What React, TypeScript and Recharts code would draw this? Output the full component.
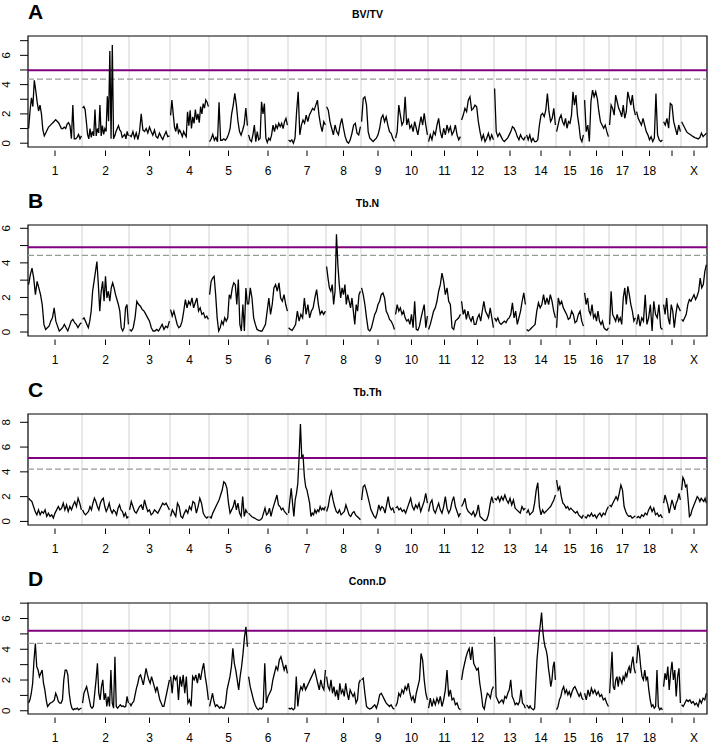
import { LineChart, Line, XAxis, YAxis, ReferenceLine, ReferenceArea, CartesianGrid } from "recharts";

// chromosome map (lengths, same for all four scans)
const chromNames = ["1", "2", "3", "4", "5", "6", "7", "8", "9", "10", "11", "12", "13", "14", "15", "16", "17", "18", "19", "X"];
const chromLengths = [54, 47, 41, 39, 39, 40, 38, 35, 34, 33, 33, 33, 32, 30, 28, 25, 27, 27, 18, 26];
const hiddenLabels = ["19"]; // R drops this label (no room)

// LOD profiles, one list per chromosome
const bvtvLod: number[][] = [
  [1.0, 2.2, 3.1, 2.5, 4.3, 3.6, 2.8, 2.2, 2.6, 2.0, 0.9, 0.5, 0.7, 0.9, 1.1, 1.2, 1.3, 1.4, 1.5, 1.6, 1.5, 1.4, 1.2, 1.0, 1.0, 1.1, 1.0, 1.3, 1.4, 1.2, 0.3, 2.6, 0.3, 0.3, 0.4, 0.6, 0.3, 0.5],
  [2.4, 2.5, 2.3, 1.5, 0.6, 0.3, 1.0, 0.4, 0.8, 0.5, 2.3, 0.5, 1.0, 0.7, 2.6, 0.5, 1.2, 0.6, 1.0, 0.8, 3.2, 1.5, 6.3, 0.3, 6.7, 0.3, 0.5, 0.8, 1.0, 1.2, 0.9, 0.8, 0.4, 0.5, 0.6, 0.3, 0.8, 0.5],
  [0.55, 0.45, 0.8, 0.35, 0.7, 0.25, 0.8, 2.0, 0.9, 0.8, 1.0, 0.7, 1.1, 0.8, 0.55, 0.9, 0.45, 0.35, 0.7, 0.45, 0.25, 0.55, 0.8, 0.45, 0.5],
  [1.9, 2.95, 2.0, 1.1, 0.8, 1.35, 0.7, 0.9, 0.7, 0.45, 0.8, 0.6, 0.45, 2.15, 1.2, 2.25, 1.0, 1.8, 1.35, 2.3, 1.6, 2.0, 1.4, 2.5, 2.0, 2.7, 2.4, 2.95, 2.8, 2.5],
  [0.1, 0.3, 0.6, 0.2, 0.4, 0.1, 2.8, 0.2, 0.2, 0.3, 0.2, 0.35, 0.6, 1.0, 2.0, 2.6, 3.4, 2.6, 1.5, 0.8, 0.55, 0.9, 1.3, 2.4, 1.2],
  [0.57, 0.23, 0.11, 0.57, 1.24, 0.11, 0.79, 0.23, 0.34, 2.83, 2.0, 2.71, 0.34, 0.05, 0.34, 0.2, 0.57, 1.24, 0.79, 1.24, 1.02, 1.36, 1.13, 1.36, 1.0, 1.47, 1.7, 1.24],
  [0.23, 0.11, 0.23, 0.0, 0.34, 2.15, 3.51, 0.57, 1.24, 1.58, 1.36, 1.92, 1.47, 1.92, 2.15, 2.38, 2.26, 2.6, 2.94, 1.92, 1.24, 0.79, 1.47, 1.24],
  [2.49, 2.26, 1.47, 1.02, 0.57, 1.24, 0.79, 0.57, 1.24, 1.7, 1.02, 0.45, 0.11, 0.0, 0.23, 0.68, 1.24, 1.36, 0.68, 0.57, 1.13],
  [1.47, 3.05, 3.17, 2.6, 0.79, 0.34, 0.23, 0.11, 0.23, 0.34, 0.57, 1.02, 1.7, 1.92, 1.47, 1.81, 1.24, 0.79, 0.68, 0.34, 0.11],
  [0.34, 0.79, 2.6, 1.92, 1.24, 1.47, 3.17, 1.24, 1.7, 1.02, 1.24, 0.79, 1.47, 1.02, 0.57, 1.24, 1.81, 1.24, 2.04, 1.24, 0.57],
  [0.11, 0.57, 0.23, 0.79, 0.57, 1.24, 1.7, 0.79, 0.34, 1.02, 0.57, 1.24, 0.79, 1.13, 0.57, 0.79, 1.24, 0.57, 0.23, 0.45],
  [1.58, 1.92, 2.38, 2.15, 2.94, 3.17, 2.26, 2.38, 2.6, 2.49, 1.47, 0.79, 0.23, 0.57, 0.11, 0.34, 0.68, 0.23, 0.57, 0.23],
  [3.73, 0.79, 0.45, 0.68, 0.45, 0.23, 0.11, 0.23, 0.34, 0.57, 0.79, 1.13, 1.02, 0.79, 0.45, 0.23, 0.57, 0.34, 0.23, 0.45],
  [0.57, 0.23, 0.57, 0.11, 0.34, 0.11, 0.11, 0.23, 1.24, 1.92, 2.04, 1.81, 2.26, 3.39, 2.15, 1.47, 1.7, 2.38, 1.24],
  [0.79, 1.24, 1.7, 1.92, 1.47, 1.24, 1.7, 1.02, 1.47, 1.36, 1.92, 3.51, 2.6, 3.28, 1.92, 1.24, 0.34, 0.11, 0.57],
  [2.94, 0.79, 1.24, 0.11, 2.83, 3.62, 3.17, 3.51, 3.05, 2.15, 1.47, 1.24, 1.02, 1.24, 0.79, 0.45],
  [1.24, 2.6, 2.38, 1.92, 3.28, 2.83, 2.38, 2.15, 1.81, 2.6, 1.7, 2.15, 3.51, 3.05, 2.6, 3.28, 2.38, 1.92],
  [2.15, 1.7, 1.47, 1.24, 1.7, 1.24, 0.79, 0.57, 0.23, 0.45, 0.11, 0.34, 3.39, 0.57, 0.23, 0.11, 0.23],
  [1.47, 1.24, 1.7, 1.02, 2.71, 2.6, 1.47, 1.02, 0.57, 1.24, 0.79],
  [1.47, 1.24, 1.02, 0.79, 0.68, 0.61, 0.52, 0.45, 0.38, 0.34, 0.29, 0.38, 0.68, 0.45, 0.57, 0.68],
];

const tbnLod: number[][] = [
  [2.74, 3.31, 3.7, 3.12, 2.16, 2.93, 2.55, 2.16, 1.59, 0.44, 0.15, 0.25, 0.34, 0.63, 0.82, 1.4, 0.63, 0.34, 0.06, 0.15, 0.25, 0.44, 0.25, 0.06, 0.34, 0.63, 0.73, 0.54, 0.44, 0.25, 0.44, 0.54],
  [0.73, 0.82, 0.63, 0.44, 0.25, 0.63, 1.21, 2.36, 2.93, 3.51, 4.08, 2.74, 1.21, 2.36, 2.93, 1.78, 3.22, 1.97, 2.36, 1.78, 2.55, 2.84, 2.55, 2.16, 1.88, 1.59, 1.21, 0.25, 0.06, 0.25, 1.4, 1.59, 0.44],
  [0.15, 0.06, 0.25, 0.82, 1.78, 1.59, 1.49, 1.3, 1.21, 1.02, 0.82, 0.63, 0.25, 0.06, 0.06, 0.15, 0.06, 0.25, 0.44, 0.15, 0.34, 0.25, 0.63],
  [1.3, 0.92, 1.21, 0.82, 0.44, 0.25, 0.34, 0.63, 1.21, 1.88, 1.4, 1.78, 1.59, 1.97, 1.4, 1.69, 1.97, 1.21, 1.4, 1.02, 1.11, 0.82, 0.92, 0.73],
  [2.16, 2.93, 3.12, 3.22, 2.16, 0.82, 0.06, 0.25, 0.63, 0.44, 0.82, 0.63, 0.82, 2.16, 1.97, 2.55, 2.84, 2.74, 1.59, 3.03, 0.44, 0.06, 1.59, 0.06, 2.55, 1.59],
  [1.59, 2.55, 1.97, 0.82, 0.44, 0.15, 0.1, 0.06, 0.06, 0.25, 0.44, 1.21, 1.97, 1.02, 1.59, 2.55, 2.74, 2.36, 2.84, 1.97, 1.78, 2.16, 1.59, 1.21],
  [0.25, 0.15, 0.1, 0.25, 0.44, 1.21, 0.63, 1.02, 0.82, 1.97, 1.02, 1.59, 0.82, 1.21, 1.4, 1.97, 2.45, 1.59, 1.02, 1.21, 1.02, 1.21],
  [3.79, 3.12, 2.55, 2.36, 2.74, 1.59, 2.36, 5.65, 3.89, 2.74, 1.97, 2.55, 2.16, 2.74, 1.59, 2.16, 1.78, 1.4, 1.97, 1.21, 0.44, 1.59, 1.21, 2.16, 2.36],
  [2.55, 2.16, 1.59, 0.82, 0.15, 0.06, 0.25, 0.63, 1.02, 1.21, 1.59, 1.78, 2.16, 2.26, 1.97, 1.21, 1.02, 0.73, 0.63, 0.44, 0.15],
  [1.02, 1.59, 1.21, 1.4, 1.02, 1.21, 0.82, 0.63, 0.73, 0.44, 1.02, 0.25, 1.78, 0.15, 0.1, 0.34, 0.82, 1.21, 1.59, 0.25, 0.92],
  [0.15, 0.44, 0.82, 1.21, 1.4, 1.78, 2.36, 2.74, 3.41, 2.93, 2.16, 2.55, 1.78, 1.59, 0.25, 0.15, 0.63, 0.73, 0.82, 1.02],
  [1.78, 1.02, 1.3, 0.73, 1.21, 0.82, 0.63, 0.92, 0.44, 0.44, 0.82, 1.02, 0.63, 1.21, 1.78, 1.21, 1.02, 0.82, 1.4, 0.82, 0.25],
  [0.82, 0.63, 0.82, 0.54, 0.44, 0.54, 0.63, 0.54, 0.73, 0.82, 1.02, 1.69, 0.82, 1.21, 0.44, 0.82, 1.21, 1.78, 2.26, 1.59],
  [0.15, 0.06, 0.15, 0.25, 0.34, 0.44, 1.21, 1.69, 1.4, 1.59, 2.16, 1.59, 1.97, 1.59, 2.16, 1.78, 1.21, 0.82],
  [0.25, 1.97, 1.59, 1.78, 1.4, 1.21, 1.02, 0.73, 0.82, 1.21, 1.02, 0.54, 0.63, 1.02, 1.21, 0.63, 0.34],
  [2.26, 1.59, 1.97, 1.21, 1.02, 1.59, 0.82, 1.02, 0.63, 1.21, 0.63, 0.44, 0.63, 0.25, 0.15, 0.1, 0.25],
  [0.44, 2.36, 1.02, 0.82, 0.63, 1.02, 0.63, 0.82, 0.44, 1.97, 2.55, 1.59, 2.64, 2.16, 1.59, 1.21, 0.63, 0.82],
  [0.44, 1.02, 0.34, 0.82, 0.63, 2.16, 0.44, 0.82, 1.59, 0.06, 1.78, 1.02, 0.82, 1.59, 0.25, 0.15],
  [1.59, 1.02, 1.97, 0.82, 0.44, 1.59, 1.21, 0.25, 1.02, 1.59, 1.4, 1.21],
  [0.73, 0.63, 0.82, 1.02, 1.59, 1.88, 1.78, 1.97, 2.16, 1.88, 2.07, 2.36, 3.12, 2.55, 2.74, 3.51, 3.89],
];

const tbthLod: number[][] = [
  [1.87, 1.73, 1.6, 1.2, 0.8, 0.53, 0.93, 0.53, 0.8, 0.67, 0.93, 0.4, 0.67, 0.4, 0.53, 0.27, 0.67, 0.93, 1.2, 0.93, 1.07, 1.47, 0.93, 1.33, 0.8, 1.2, 0.93, 1.33, 1.6, 1.2, 1.87, 1.47, 0.93],
  [0.93, 0.67, 0.53, 0.67, 0.8, 1.2, 0.93, 1.47, 1.87, 1.6, 1.2, 0.93, 1.47, 1.73, 1.87, 1.2, 0.8, 1.07, 1.47, 0.93, 0.67, 0.93, 0.8, 0.53, 1.07, 1.33, 0.93, 0.8, 0.4, 0.67, 0.27, 0.4],
  [0.93, 1.6, 1.2, 0.8, 0.67, 0.93, 1.2, 1.33, 0.93, 1.73, 1.2, 0.8, 0.93, 0.53, 0.67, 0.93, 0.8, 0.67, 0.93, 1.2, 1.47, 1.33, 1.47, 1.2, 0.93],
  [0.4, 0.93, 0.67, 0.4, 1.47, 1.2, 0.4, 0.27, 0.67, 0.93, 0.67, 1.2, 0.93, 1.6, 1.47, 0.67, 1.2, 1.87, 1.47, 0.67, 0.4, 0.27, 0.4],
  [0.4, 0.27, 0.67, 0.93, 1.2, 1.47, 1.73, 2.13, 2.53, 3.2, 3.07, 2.67, 1.47, 0.67, 0.93, 1.2, 1.73, 0.93, 1.47, 0.67, 0.4, 2.0, 0.4, 0.93, 0.67],
  [0.67, 0.53, 0.4, 0.32, 0.27, 0.19, 0.13, 0.08, 0.13, 0.27, 0.67, 1.07, 0.53, 0.67, 1.07, 0.4, 0.93, 1.33, 1.73, 2.13, 1.33, 1.2, 0.93, 1.07, 0.8, 0.67, 0.53],
  [0.67, 1.73, 2.67, 1.47, 0.4, 1.73, 2.27, 3.07, 5.2, 7.87, 5.2, 5.33, 3.6, 2.8, 2.53, 2.0, 1.47, 0.4, 0.67, 0.53, 0.93, 0.67, 0.93, 0.8, 1.2, 0.93, 1.07, 0.93, 1.2],
  [0.8, 1.2, 2.0, 2.4, 1.73, 1.2, 0.8, 0.67, 0.93, 0.53, 0.67, 0.8, 1.33, 0.93, 0.53, 0.4, 0.67, 0.8, 0.53, 0.4, 0.27, 0.13],
  [1.73, 2.8, 2.93, 2.53, 2.0, 1.47, 0.93, 0.67, 0.4, 0.27, 0.67, 1.33, 0.93, 1.2, 1.07, 0.67, 1.33, 2.0, 1.2, 0.93, 1.07, 0.67],
  [1.07, 1.2, 0.93, 1.07, 0.8, 0.93, 0.67, 1.07, 1.47, 1.87, 1.2, 0.93, 1.33, 1.07, 1.47, 0.8, 1.2, 1.6, 2.27, 1.47],
  [0.8, 1.47, 1.73, 0.93, 0.67, 1.07, 1.47, 0.93, 0.67, 1.2, 2.0, 1.07, 0.67, 0.93, 1.6, 2.0, 1.2, 0.8, 0.4, 0.67],
  [1.2, 1.47, 1.87, 1.07, 0.8, 0.67, 0.53, 0.8, 0.4, 0.67, 1.33, 0.4, 0.27, 0.13, 0.05, 0.13, 0.53, 1.33, 2.0, 1.47],
  [1.87, 1.73, 2.0, 1.6, 2.0, 1.73, 2.13, 1.73, 1.47, 1.87, 1.33, 1.73, 1.07, 0.93, 0.8, 0.67, 1.2, 0.93, 1.07],
  [0.67, 0.93, 0.53, 0.67, 0.8, 1.47, 2.53, 3.12, 1.2, 0.53, 0.93, 0.67, 0.8, 0.93, 1.07, 1.2, 1.47, 1.73, 2.13],
  [3.33, 2.53, 2.8, 2.0, 1.47, 1.33, 1.07, 1.2, 0.93, 1.07, 0.93, 0.8, 0.67, 0.8, 0.53, 0.4, 0.27, 0.53],
  [0.4, 0.27, 0.53, 0.4, 0.67, 0.4, 0.53, 0.27, 0.53, 0.67, 0.4, 0.67, 0.53, 0.93, 1.2],
  [1.33, 1.2, 1.47, 1.73, 2.0, 1.73, 2.27, 2.93, 2.53, 1.2, 0.8, 0.53, 0.4, 0.45, 0.27, 0.35, 0.45],
  [0.27, 0.4, 0.27, 0.53, 0.4, 0.67, 0.53, 0.93, 1.2, 0.8, 1.07, 0.53, 0.67, 0.4, 0.53, 0.27],
  [1.47, 2.13, 1.73, 1.33, 0.67, 1.2, 1.73, 1.33, 0.93, 1.47, 1.73, 2.27, 1.73],
  [2.53, 3.55, 3.33, 2.8, 2.93, 1.73, 0.4, 0.53, 0.93, 1.2, 1.47, 1.73, 2.0, 1.87, 1.6, 1.87, 1.73, 1.6, 1.87, 1.47],
];

const conndLod: number[][] = [
  [0.5, 0.71, 1.14, 1.79, 3.3, 4.38, 2.87, 2.65, 2.22, 2.44, 2.65, 1.79, 1.36, 0.71, 0.28, 0.39, 0.5, 0.54, 0.6, 0.71, 1.14, 0.93, 0.6, 0.5, 0.5, 0.71, 2.01, 2.65, 2.65, 2.33, 1.14, 0.5, 0.17, 0.06, 0.13, 0.11, 0.17, 0.06, 0.13, 0.17],
  [0.5, 1.14, 1.36, 1.57, 1.14, 0.71, 0.28, 0.17, 0.28, 1.14, 2.01, 3.09, 1.14, 0.71, 1.57, 2.01, 0.71, 1.14, 0.28, 0.93, 0.28, 2.65, 0.5, 0.17, 3.52, 0.28, 0.17, 0.28, 0.39, 0.28, 0.32, 0.24, 0.28, 0.93, 0.5],
  [0.5, 0.32, 0.5, 0.6, 1.04, 1.47, 1.79, 2.22, 2.33, 2.01, 1.68, 2.22, 2.76, 2.33, 2.01, 1.79, 2.22, 1.9, 1.57, 1.25, 1.57, 1.14, 0.71, 0.5, 0.28, 0.28, 0.71, 1.14, 1.57, 2.01],
  [2.22, 1.14, 2.33, 2.01, 2.22, 0.71, 2.22, 1.57, 2.33, 1.14, 2.22, 0.5, 0.71, 0.28, 2.22, 2.01, 2.33, 1.79, 2.44, 2.01, 2.65, 3.09, 2.22, 1.57, 0.71],
  [0.28, 0.71, 1.14, 0.6, 0.28, 0.39, 0.28, 0.17, 0.28, 0.17, 0.17, 0.5, 1.36, 1.79, 2.22, 2.87, 4.06, 3.09, 2.65, 2.01, 1.36, 2.22, 2.87, 3.73, 4.81, 5.46, 4.16],
  [2.22, 1.57, 1.14, 0.71, 0.39, 0.17, 0.06, 0.17, 0.11, 0.28, 3.09, 0.5, 0.93, 1.14, 1.36, 2.01, 2.44, 2.87, 2.65, 3.3, 3.52, 3.09, 2.65, 2.98, 2.44],
  [0.17, 0.11, 0.17, 0.06, 0.17, 2.22, 0.28, 1.14, 1.57, 1.36, 1.79, 1.36, 1.57, 1.79, 2.01, 2.22, 2.44, 2.65, 2.22, 1.79, 1.36, 2.01, 1.57, 1.36, 2.65],
  [2.22, 1.57, 1.36, 2.01, 1.14, 1.57, 0.93, 1.36, 0.71, 1.79, 1.14, 1.36, 0.93, 1.79, 1.14, 0.71, 1.36, 1.14, 0.93, 1.14, 0.5, 0.71, 1.79, 2.01],
  [2.01, 2.12, 1.14, 0.28, 0.17, 0.11, 0.17, 0.28, 0.39, 0.17, 0.5, 1.04, 1.14, 0.93, 0.71, 0.5, 0.39, 0.28, 0.39, 0.17, 0.11],
  [0.28, 0.5, 1.14, 0.93, 1.36, 1.14, 1.57, 1.36, 1.79, 1.14, 0.71, 0.93, 0.5, 1.14, 1.57, 2.01, 3.73, 3.3, 2.01, 1.14, 0.71],
  [0.17, 0.82, 0.28, 0.71, 0.39, 0.82, 0.5, 0.93, 0.28, 0.71, 1.36, 2.65, 0.93, 1.36, 0.71, 0.82, 0.39, 0.5, 0.17, 0.06],
  [2.01, 2.65, 3.09, 3.52, 3.84, 4.06, 3.3, 4.16, 3.09, 2.87, 2.65, 2.76, 1.79, 1.14, 0.28, 0.11, 0.71, 1.14, 1.04, 0.82, 1.36, 1.57],
  [4.81, 0.93, 0.71, 0.5, 0.6, 0.71, 0.5, 0.93, 0.82, 1.14, 1.36, 2.01, 0.93, 0.71, 0.39, 0.5, 0.39, 0.6, 1.36, 0.5, 0.39, 0.17],
  [0.39, 0.28, 0.17, 0.32, 0.17, 0.11, 0.06, 0.17, 1.79, 3.3, 4.16, 5.03, 5.67, 6.39, 5.24, 4.6, 4.16, 3.95, 3.52, 2.76, 2.22, 1.57, 2.01, 2.87, 3.19, 2.01],
  [0.06, 0.28, 0.71, 0.93, 1.36, 1.57, 1.14, 1.36, 1.04, 1.25, 0.93, 1.25, 1.47, 1.57, 1.36, 1.14, 0.93, 1.14, 0.82, 0.71],
  [1.14, 0.71, 1.36, 0.93, 1.47, 1.14, 1.36, 1.04, 1.25, 0.93, 1.04, 0.71, 0.82, 0.5, 0.28],
  [1.14, 2.44, 3.84, 1.57, 1.36, 2.01, 2.22, 1.57, 2.22, 2.01, 1.79, 2.22, 2.01, 2.44, 2.22, 2.65, 2.87, 2.44, 3.09, 3.52, 2.76, 2.44],
  [3.09, 4.27, 3.84, 2.87, 2.22, 2.01, 2.65, 2.01, 2.22, 1.36, 0.71, 0.28, 0.39, 0.17, 0.28, 2.65, 0.28, 0.06, 0.17, 0.06],
  [1.57, 2.44, 2.01, 2.87, 1.36, 2.44, 3.19, 2.01, 2.65, 0.93, 2.22, 2.76, 0.5],
  [0.39, 0.28, 0.5, 0.71, 0.6, 0.71, 0.5, 0.6, 0.39, 0.5, 0.28, 0.71, 0.5, 0.82, 0.71, 1.14],
];

const panelLetters = ["A", "B", "C", "D"];
const panelTitles = ["BV/TV", "Tb.N", "Tb.Th", "Conn.D"];
const thresholds = [4.98, 4.91, 5.12, 5.2]; // purple, significant
const suggestive = [4.37, 4.43, 4.22, 4.38]; // grey dashed
const yRanges = [
  [-0.26, 7.32],
  [-0.23, 6.19],
  [-0.29, 8.67],
  [-0.21, 7.01],
];
const yTicks = [
  [0, 1, 2, 3, 4, 5, 6, 7],
  [0, 1, 2, 3, 4, 5, 6],
  [0, 2, 4, 6, 8],
  [0, 1, 2, 3, 4, 5, 6, 7],
];

const FONT = "'Liberation Sans', Arial, Helvetica, sans-serif";
const W = 708;
const H = 189;

const chromStarts = chromLengths.map((_, i) => chromLengths.slice(0, i).reduce((a, b) => a + b, 0));
const totalLen = chromLengths.reduce((a, b) => a + b, 0);
const chromCenters = chromStarts.map((s, i) => s + chromLengths[i] / 2);
const boundaries = chromStarts.slice(1);

// one row per marker, with a null row between chromosomes to break the line
function buildRows(lod: number[][]) {
  const rows: { pos: number; lod: number | null }[] = [];
  lod.forEach((vals, c) => {
    const start = chromStarts[c];
    const len = chromLengths[c];
    vals.forEach((v, i) => {
      rows.push({ pos: start + 0.6 + ((len - 1.2) * i) / (vals.length - 1), lod: v });
    });
    rows.push({ pos: start + len, lod: null });
  });
  return rows;
}

// chromosome separators in pixels, through the axis scale when available
function boundaryCoords(p: any) {
  const sc = p?.xAxis?.scale;
  if (typeof sc === "function") return boundaries.map((b) => sc(b));
  if (sc && typeof sc.map === "function") return boundaries.map((b) => sc.map(b));
  const off = p?.offset ?? { left: 28, width: 679 };
  return boundaries.map((b) => off.left + (b / totalLen) * off.width);
}

function YTick(props: any) {
  const { x, y, payload } = props;
  const v = payload.value;
  const bx = x - 17.5;
  return (
    <g>
      <line x1={x - 8} x2={x} y1={y} y2={y} stroke="#000" strokeWidth={1} />
      {v % 2 === 0 ? (
        <text
          x={bx}
          y={y}
          transform={`rotate(-90 ${bx} ${y})`}
          textAnchor="middle"
          fontSize={11.5}
          fontFamily={FONT}
          fill="#000"
        >
          {v}
        </text>
      ) : null}
    </g>
  );
}

function XTick(props: any) {
  const { x, y, payload } = props;
  const idx = chromCenters.findIndex((c) => Math.abs(c - payload.value) < 0.01);
  const name = chromNames[idx] ?? "";
  return (
    <g>
      <line x1={x} x2={x} y1={y + 3.5} y2={y + 9} stroke="#000" strokeWidth={1} />
      {hiddenLabels.includes(name) ? null : (
        <text x={x} y={y + 27.5} textAnchor="middle" fontSize={12} fontFamily={FONT} fill="#000">
          {name}
        </text>
      )}
    </g>
  );
}

function ScanPanel({ index, lod }: { index: number; lod: number[][] }) {
  const rows = buildRows(lod);
  const [yMin, yMax] = yRanges[index];
  return (
    <div style={{ position: "relative", width: W, height: H }}>
      <LineChart width={W} height={H} data={rows} margin={{ top: 36, right: 1, bottom: 0, left: 0 }}>
        <CartesianGrid
          horizontal={false}
          vertical
          stroke="#d2d2d2"
          strokeWidth={1}
          verticalCoordinatesGenerator={boundaryCoords}
        />
        <XAxis
          dataKey="pos"
          type="number"
          domain={[0, totalLen]}
          ticks={chromCenters}
          interval={0}
          height={42}
          axisLine={false}
          tickLine={false}
          tickSize={0}
          tickMargin={0}
          tick={(p: any) => <XTick {...p} />}
          allowDataOverflow
        />
        <YAxis
          type="number"
          domain={[yMin, yMax]}
          ticks={yTicks[index]}
          interval={0}
          width={28}
          axisLine={false}
          tickLine={false}
          tickSize={0}
          tickMargin={0}
          tick={(p: any) => <YTick {...p} />}
          allowDataOverflow
        />
        <ReferenceLine y={suggestive[index]} stroke="#9a9a9a" strokeWidth={1.2} strokeDasharray="6 3" />
        <ReferenceLine y={thresholds[index]} stroke="#800080" strokeWidth={2} />
        <Line
          dataKey="lod"
          type="linear"
          stroke="#000"
          strokeWidth={1.3}
          strokeLinejoin="miter"
          dot={false}
          activeDot={false}
          connectNulls={false}
          isAnimationActive={false}
        />
        <ReferenceArea x1={0} x2={totalLen} y1={yMin} y2={yMax} fill="none" stroke="#000" strokeWidth={1.2} />
      </LineChart>
      <svg width={W} height={40} style={{ position: "absolute", left: 0, top: 0, pointerEvents: "none" }}>
        <text x={28} y={19} fontSize={21} fontWeight="bold" fontFamily={FONT} fill="#000">
          {panelLetters[index]}
        </text>
        <text x={367.5} y={18} textAnchor="middle" fontSize={10.5} fontWeight="bold" fontFamily={FONT} fill="#000">
          {panelTitles[index]}
        </text>
      </svg>
    </div>
  );
}

export default function App() {
  const scans = [bvtvLod, tbnLod, tbthLod, conndLod];
  return (
    <div
      style={{
        position: "absolute",
        left: 0,
        top: 0,
        width: W,
        height: 743,
        overflow: "hidden",
        background: "#fff",
      }}
    >
      {scans.map((lod, i) => (
        <ScanPanel key={i} index={i} lod={lod} />
      ))}
    </div>
  );
}
